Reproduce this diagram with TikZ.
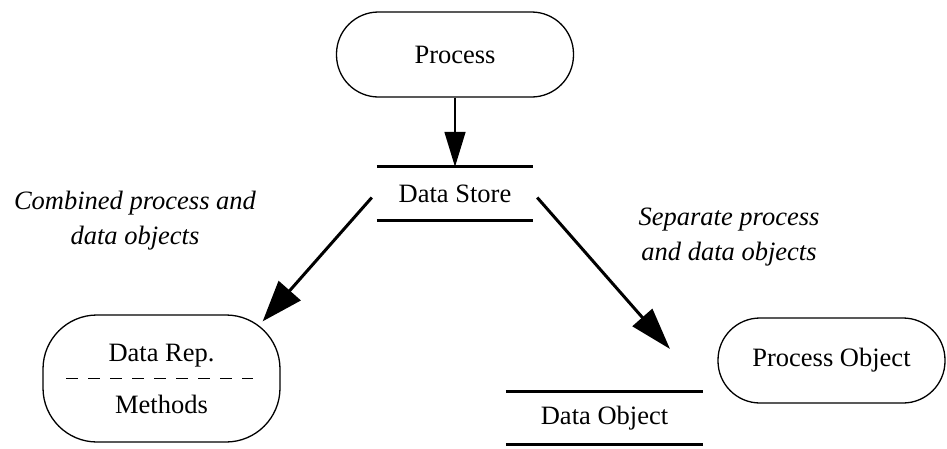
\documentclass[tikz,border=0pt]{standalone}
\usepackage{fontspec}
\setmainfont{Liberation Serif}
\usetikzlibrary{arrows.meta,calc}

\tikzset{
    diagfont/.style={font=\fontsize{26.5}{34}\selectfont},
    procbox/.style={draw,line width=1.3pt,diagfont,rounded corners=42pt,
        minimum width=237pt,minimum height=85pt,inner sep=0pt},
    storebox/.style={diagfont,inner sep=0pt,minimum height=53pt},
    storeline/.style={line width=2.8pt},
    note/.style={font=\fontsize{26.5}{35}\selectfont\itshape,align=center}
}

\begin{document}
\begin{tikzpicture}[x=1pt,y=-1pt]
    \useasboundingbox (0,0) rectangle (947,448);

    % === Top: process feeding the data store ===
    \node[procbox] (proc) at (455,54.5) {Process};
    \node[storebox,minimum width=156pt] (store) at (455,193.5) {Data Store};
    \draw[storeline] (store.north west) -- (store.north east);
    \draw[storeline] (store.south west) -- (store.south east);
    \draw[-{Triangle[length=35pt,width=21pt]},line width=1.6pt] (proc) -- (store);

    % === Left: combined process and data objects ===
    \node[note] (combined) at (135,221) {Combined process and\\data objects};
    \node[procbox,rounded corners=54pt,minimum height=127pt,align=center]
        (rep) at (161.5,378.5) {Data Rep.\\[18pt]Methods};
    \draw[line width=1.1pt,dash pattern=on 12pt off 10pt]
        ($(rep.west)+(24,0)$) -- ($(rep.east)+(-28,0)$);
    \draw[-{Triangle[length=41pt,width=29pt]},line width=3pt]
        ($(store.west)+(-5,4)$) -- ($(rep.north east)+(-18,7)$);

    % === Right: separate process and data objects ===
    \node[note] (separate) at (729,237) {Separate process\\and data objects};
    \node[procbox,minimum width=227pt] (pobj) at (831.5,360.5) {Process Object};
    \node[storebox,minimum width=197pt] (dobj) at (604.5,418) {Data Object};
    \draw[storeline] (dobj.north west) -- (dobj.north east);
    \draw[storeline] (dobj.south west) -- (dobj.south east);
    \coordinate (sepTip) at (670,349);
    \draw[-{Triangle[length=42pt,width=26pt]},line width=3pt]
        ($(store.east)+(4,4)$) -- (sepTip);
\end{tikzpicture}
\end{document}
